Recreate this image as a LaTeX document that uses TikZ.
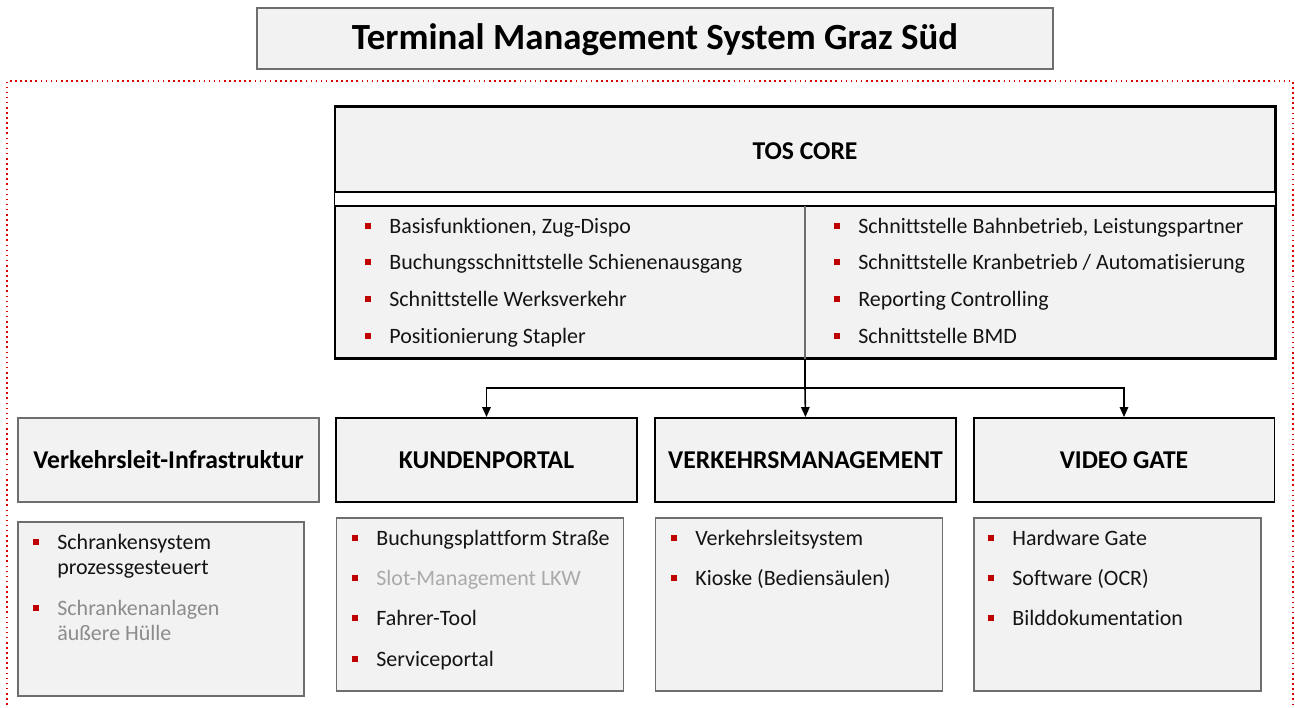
\documentclass[tikz,border=0pt]{standalone}
\usepackage{fontspec}
\setmainfont{Carlito}[Ligatures=NoCommon]
\usetikzlibrary{arrows.meta}
\definecolor{boxfill}{RGB}{242,242,242}
\definecolor{bred}{RGB}{192,0,0}
\definecolor{txt}{RGB}{20,20,20}
\definecolor{greyA}{RGB}{140,140,140}
\definecolor{greyB}{RGB}{170,170,170}
\definecolor{boxline}{RGB}{110,110,110}
\tikzset{
  titlebox/.style={draw=boxline, line width=0.8pt, fill=boxfill, minimum width=15.92cm, minimum height=1.22cm, inner sep=0pt, font=\fontsize{21}{24}\selectfont\bfseries},
  corebox/.style={draw=black, line width=0.9pt, fill=boxfill, minimum width=18.8cm, minimum height=5.02cm, inner sep=0pt},
  hdrbox/.style={draw=black, line width=1.1pt, fill=boxfill, minimum width=6.02cm, minimum height=1.68cm, inner sep=0pt, font=\fontsize{14.6}{17}\selectfont\bfseries},
  hdrgrey/.style={hdrbox, draw=boxline, line width=0.7pt},
  listbox/.style={draw=boxline, line width=0.7pt, fill=boxfill, minimum width=5.74cm, minimum height=3.46cm, inner sep=0pt},
  itemtext/.style={anchor=west, inner sep=0pt, text=txt, font=\fontsize{12.5}{14}\selectfont, text height=0.72em, text depth=0.22em, yshift=-0.06cm},
  bsq/.style={rectangle, fill=bred, minimum size=0.11cm, inner sep=0pt},
  conn/.style={draw=black, line width=0.9pt},
  arr/.style={conn, -{Triangle[length=0.2cm, width=0.17cm]}},
  frame/.style={draw=red!85!black, line width=0.9pt, dotted},
}
\newcommand\bitem[5]{%
  \node[bsq] (#1-b) at ({#2-21},#3) {};
  \node[itemtext, text=#4] (#1) at (#2,#3) {#5};}
\begin{document}
\begin{tikzpicture}[x=0.02cm,y=-0.02cm]
\useasboundingbox (0,0) rectangle (1295,707);
% dotted frame
\coordinate (fbl) at (7,720);
\coordinate (ftl) at (7,81);
\coordinate (ftr) at (1293,81);
\coordinate (fbr) at (1293,720);
\draw[frame] (fbl) -- (ftl) -- (ftr) -- (fbr);
% title
\node[titlebox] (title) at (655,38.5) {};
\node[inner sep=0pt, font=\fontsize{21}{24}\selectfont\bfseries] (titletext) at (655,40) {Terminal Management System Graz Süd};
% TOS core
\node[corebox] (core) at (805,232.5) {};
\coordinate (cw1) at (335,192);
\coordinate (ce2) at (1275,206);
\fill[white] (cw1) rectangle (ce2);
\coordinate (ce1) at (1275,192);
\coordinate (cw2) at (335,206);
\draw[black, line width=0.9pt] (cw1) -- (ce1) (cw2) -- (ce2);
\draw[black, line width=0.9pt] (core.north west) rectangle (core.south east);
\coordinate (divt) at (805,206);
\draw[boxline, line width=0.7pt] (divt) -- (core.south);
\node[inner sep=0pt, font=\fontsize{14.6}{17}\selectfont\bfseries] (coretitle) at (805,151) {TOS CORE};
\bitem{c1}{389}{226}{txt}{Basisfunktionen, Zug-Dispo}
\bitem{c2}{389}{262}{txt}{Buchungsschnittstelle Schienenausgang}
\bitem{c3}{389}{299}{txt}{Schnittstelle Werksverkehr}
\bitem{c4}{389}{336}{txt}{Positionierung Stapler}
\bitem{c5}{858}{226}{txt}{Schnittstelle Bahnbetrieb, Leistungspartner}
\bitem{c6}{858}{262}{txt}{Schnittstelle Kranbetrieb / Automatisierung}
\bitem{c7}{858}{299}{txt}{Reporting Controlling}
\bitem{c8}{858}{336}{txt}{Schnittstelle BMD}
% headers
\node[hdrgrey] (vi) at (168.5,460) {Verkehrsleit-Infrastruktur};
\node[hdrbox] (kp) at (486.5,460) {KUNDENPORTAL};
\node[hdrbox] (vm) at (805.5,460) {VERKEHRSMANAGEMENT};
\node[hdrbox] (vg) at (1124,460) {VIDEO GATE};
% connectors
\coordinate (jn) at (805,388);
\draw[conn] (core.south) -- (jn);
\draw[arr] (jn) -| (kp.north);
\draw[arr] (jn) -- (vm.north);
\draw[arr] (jn) -| (vg.north);
% list boxes
\node[listbox, minimum width=5.72cm, minimum height=3.48cm] (lvi) at (161,609) {};
\node[listbox] (lkp) at (480,604.5) {};
\node[listbox] (lvm) at (799,604.5) {};
\node[listbox] (lvg) at (1117.5,604.5) {};
\bitem{v1}{57}{542}{txt}{Schrankensystem}
\node[itemtext] (v1b) at (57,567) {prozessgesteuert};
\bitem{v2}{57}{608}{greyA}{Schrankenanlagen}
\node[itemtext, text=greyA] (v2b) at (57,633) {äußere Hülle};
\bitem{k1}{376}{538}{txt}{Buchungsplattform Straße}
\bitem{k2}{376}{578}{greyB}{Slot-Management LKW}
\bitem{k3}{376}{618}{txt}{Fahrer-Tool}
\bitem{k4}{376}{659}{txt}{Serviceportal}
\bitem{m1}{695}{538}{txt}{Verkehrsleitsystem}
\bitem{m2}{695}{578}{txt}{Kioske (Bediensäulen)}
\bitem{g1}{1012}{538}{txt}{Hardware Gate}
\bitem{g2}{1012}{578}{txt}{Software (OCR)}
\bitem{g3}{1012}{618}{txt}{Bilddokumentation}
\end{tikzpicture}
\end{document}
